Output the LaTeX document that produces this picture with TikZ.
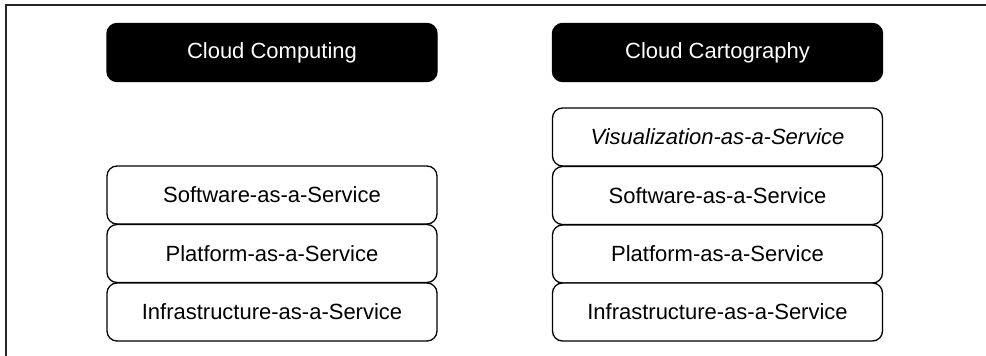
\documentclass[tikz,border=0pt]{standalone}
\usepackage{fontspec}
\setmainfont{Liberation Sans}
\begin{document}
\begin{tikzpicture}[x=1pt,y=-1pt,
  layer/.style={draw=black, line width=1.3pt, fill=white, rounded corners=10pt,
    minimum width=330pt, minimum height=58pt, inner sep=0pt, font=\fontsize{22}{26}\selectfont},
  head/.style={layer, fill=black, draw=black, text=white}]
\useasboundingbox (0,0) rectangle (986,356);
\draw[line width=2pt, draw=black!85] (6,356) -- (6,5) -- (986,5);
% left column
\node[head]  (cc)  at (272,52.5)  {Cloud Computing};
\node[layer] (saas1) at (272,195)  {Software-as-a-Service};
\node[layer] (paas1) at (272,253.5){Platform-as-a-Service};
\node[layer] (iaas1) at (272,312)  {Infrastructure-as-a-Service};
% right column
\node[head]  (ccart) at (717.5,52.5) {Cloud Cartography};
\node[layer] (vaas)  at (717.5,137)  {\itshape Visualization-as-a-Service};
\node[layer] (saas2) at (717.5,195.5){Software-as-a-Service};
\node[layer] (paas2) at (717.5,254)  {Platform-as-a-Service};
\node[layer] (iaas2) at (717.5,312)  {Infrastructure-as-a-Service};
\end{tikzpicture}
\end{document}
